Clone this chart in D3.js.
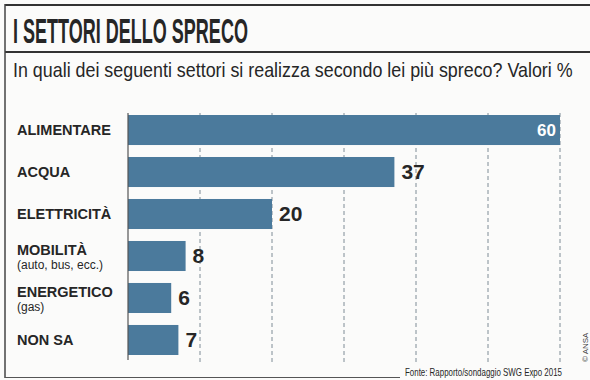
<!DOCTYPE html>
<html>
<head>
<meta charset="utf-8">
<script src="https://cdn.jsdelivr.net/npm/d3@7"></script>
<style>
  body { margin: 0; background: #fbfbfa; }
  svg { display: block; }
</style>
</head>
<body>
<svg id="chart" width="590" height="380"></svg>
<script>
var categories = ["ALIMENTARE", "ACQUA", "ELETTRICITÀ", "MOBILITÀ", "ENERGETICO", "NON SA"];
var subLabels = ["", "", "", "(auto, bus, ecc.)", "(gas)", ""];
var values = [60, 37, 20, 8, 6, 7];
var gridTicks = [10, 20, 30, 40, 50, 60];

(function () {
    var svg = d3.select('#chart');
    var font = "'Liberation Sans', Arial, sans-serif";
    var ink = '#262626';

    // squeeze a text horizontally so it spans `width` px (condensed look)
    function fitText(sel, x, y, width) {
        var natural = sel.node().getComputedTextLength();
        var k = width / natural;
        sel.attr('transform', 'translate(' + x + ',' + y + ') scale(' + k + ',1)');
    }

    var data = categories.map(function (c, i) {
        return { cat: c, sub: subLabels[i], val: values[i] };
    });

    var xScale = d3.scaleLinear().domain([0, 60]).range([128, 560]);
    var yScale = d3.scaleBand().domain(categories).range([115, 355]).paddingInner(0.285);

    // frame
    svg.append('line').attr('x1', 5).attr('x2', 590).attr('y1', 5).attr('y2', 5)
        .attr('stroke', '#333').attr('stroke-width', 2);
    svg.append('line').attr('x1', 5).attr('x2', 590).attr('y1', 52).attr('y2', 52)
        .attr('stroke', '#333').attr('stroke-width', 2);
    svg.append('line').attr('x1', 5).attr('x2', 5).attr('y1', 4).attr('y2', 378)
        .attr('stroke', '#444').attr('stroke-width', 1.5);
    svg.append('line').attr('x1', 5).attr('x2', 400).attr('y1', 377.5).attr('y2', 377.5)
        .attr('stroke', '#555').attr('stroke-width', 1.2);

    // title
    var title = svg.append('text')
        .style('font-family', font).style('font-weight', 'bold').style('font-size', '35px')
        .style('fill', ink)
        .text('I SETTORI DELLO SPRECO');
    fitText(title, 13, 43, 235);

    var subtitle = svg.append('text')
        .style('font-family', font).style('font-size', '20px')
        .style('fill', ink)
        .text('In quali dei seguenti settori si realizza secondo lei più spreco? Valori %');
    fitText(subtitle, 13, 77, 560);

    // dashed gridlines
    svg.append('g')
        .selectAll('line')
        .data(gridTicks)
        .enter()
        .append('line')
        .attr('x1', function (d) { return xScale(d); })
        .attr('x2', function (d) { return xScale(d); })
        .attr('y1', 113).attr('y2', 362)
        .attr('stroke', '#7f8c96').attr('stroke-width', 1)
        .attr('stroke-dasharray', '4,3');

    // bars
    svg.append('g')
        .selectAll('rect')
        .data(data)
        .enter()
        .append('rect')
        .attr('x', xScale(0))
        .attr('y', function (d) { return yScale(d.cat); })
        .attr('width', function (d) { return xScale(d.val) - xScale(0); })
        .attr('height', yScale.bandwidth())
        .attr('fill', '#4b7a9c');

    // axis line
    svg.append('line')
        .attr('x1', xScale(0)).attr('x2', xScale(0))
        .attr('y1', 113).attr('y2', 360)
        .attr('stroke', '#555').attr('stroke-width', 1.2);

    // category labels
    var labels = svg.append('g');
    data.forEach(function (d) {
        var cy = yScale(d.cat) + yScale.bandwidth() / 2;
        labels.append('text')
            .attr('x', 17)
            .attr('y', d.sub ? cy - 1 : cy + 5)
            .style('font-family', font).style('font-weight', 'bold').style('font-size', '14.5px')
            .style('fill', ink)
            .text(d.cat);
        if (d.sub) {
            labels.append('text')
                .attr('x', 17)
                .attr('y', cy + 13)
                .style('font-family', font).style('font-size', '12px')
                .style('fill', ink)
                .text(d.sub);
        }
    });

    // value labels
    svg.append('g')
        .selectAll('text')
        .data(data)
        .enter()
        .append('text')
        .attr('x', function (d) { return d.val === 60 ? xScale(d.val) - 4 : xScale(d.val) + 7; })
        .attr('y', function (d) {
            var cy = yScale(d.cat) + yScale.bandwidth() / 2;
            return d.val === 60 ? cy + 6 : cy + 7;
        })
        .style('text-anchor', function (d) { return d.val === 60 ? 'end' : 'start'; })
        .style('font-family', font).style('font-weight', 'bold')
        .style('font-size', function (d) { return d.val === 60 ? '17px' : '21px'; })
        .style('fill', function (d) { return d.val === 60 ? '#ffffff' : ink; })
        .text(function (d) { return d.val; });

    // source
    var source = svg.append('text')
        .style('font-family', font).style('font-size', '11px')
        .style('fill', ink)
        .text('Fonte: Rapporto/sondaggio SWG Expo 2015');
    fitText(source, 405, 376, 157);

    svg.append('text')
        .attr('transform', 'translate(588,362) rotate(-90)')
        .style('font-family', font).style('font-size', '8px')
        .style('fill', '#444')
        .text('© ANSA');
})();
</script>
</body>
</html>
